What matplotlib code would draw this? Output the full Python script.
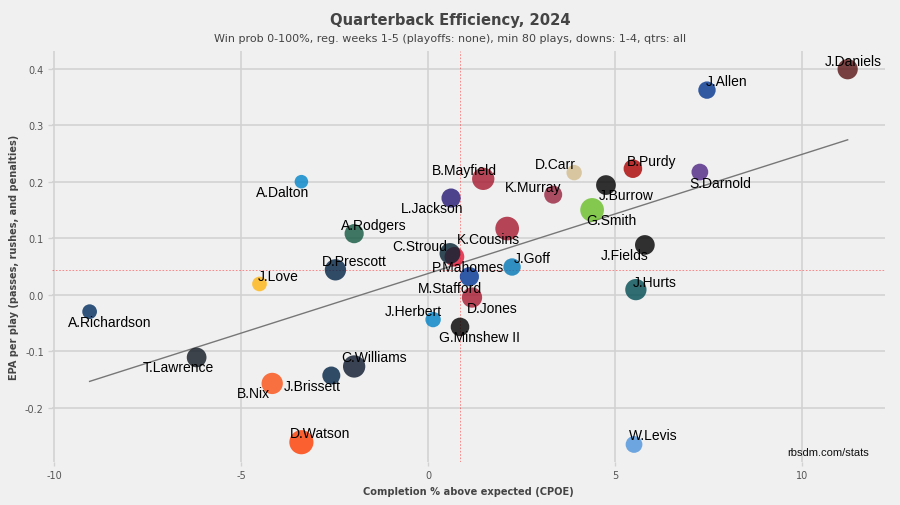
import numpy as np
import matplotlib
matplotlib.use("Agg")
import matplotlib.pyplot as plt

plt.rcParams["axes.unicode_minus"] = False

# ---- data ----
players = ["J.Daniels", "J.Allen", "B.Purdy", "S.Darnold", "D.Carr", "J.Burrow", "G.Smith",
           "K.Murray", "B.Mayfield", "L.Jackson", "K.Cousins", "P.Mahomes", "C.Stroud", "J.Goff",
           "M.Stafford", "D.Jones", "J.Herbert", "G.Minshew II", "J.Fields", "J.Hurts", "W.Levis",
           "A.Dalton", "A.Rodgers", "D.Prescott", "J.Love", "A.Richardson", "T.Lawrence", "B.Nix",
           "J.Brissett", "C.Williams", "D.Watson"]
cpoe = [11.21, 7.45, 5.47, 7.26, 3.90, 4.75, 4.38,
        3.34, 1.47, 0.61, 2.11, 0.70, 0.58, 2.24,
        1.10, 1.17, 0.13, 0.85, 5.79, 5.55, 5.50,
        -3.39, -1.98, -2.48, -4.51, -9.05, -6.19, -4.17,
        -2.59, -1.98, -3.39]
epa = [0.399, 0.362, 0.223, 0.217, 0.216, 0.194, 0.150,
       0.177, 0.205, 0.171, 0.117, 0.067, 0.073, 0.049,
       0.032, -0.005, -0.044, -0.057, 0.088, 0.009, -0.265,
       0.200, 0.108, 0.044, 0.019, -0.030, -0.111, -0.157,
       -0.143, -0.127, -0.261]
plays = [190, 140, 160, 130, 110, 180, 260,
         150, 230, 170, 260, 180, 200, 140,
         170, 190, 110, 160, 180, 210, 130,
         85, 170, 210, 100, 100, 180, 210,
         150, 230, 270]
colors = ["#5A1414", "#00338D", "#AA0000", "#4F2683", "#D3BC8D", "#000000", "#69BE28",
          "#97233F", "#A71930", "#241773", "#A71930", "#E31837", "#03202F", "#0076B6",
          "#003594", "#A71930", "#0080C6", "#000000", "#000000", "#004C54", "#4B92DB",
          "#0085CA", "#125740", "#002244", "#FFB612", "#002C5F", "#101820", "#FB4F14",
          "#002244", "#0B162A", "#FF3C00"]
mean_cpoe = 0.86
mean_epa = 0.043

title = "Quarterback Efficiency, 2024"
subtitle = "Win prob 0-100%, reg. weeks 1-5 (playoffs: none), min 80 plays, downs: 1-4, qtrs: all"
xlabel = "Completion % above expected (CPOE)"
ylabel = "EPA per play (passes, rushes, and penalties)"

# ---- layout: label offsets in pixels (dx right, dy up) ----
label_off = {
    "J.Daniels": (6, 8), "J.Allen": (20, 9), "B.Purdy": (19, 8), "S.Darnold": (20, -11),
    "D.Carr": (-19, 9), "J.Burrow": (20, -10), "G.Smith": (19, -10), "K.Murray": (-20, 8),
    "B.Mayfield": (-19, 9), "L.Jackson": (-19, -10), "K.Cousins": (-19, -10),
    "P.Mahomes": (14, -10), "C.Stroud": (-30, 7), "J.Goff": (20, 9), "M.Stafford": (-19, -11),
    "D.Jones": (20, -10), "J.Herbert": (-20, 9), "G.Minshew II": (19, -10), "J.Fields": (-20, -10),
    "J.Hurts": (19, 8), "W.Levis": (19, 9), "A.Dalton": (-19, -10), "A.Rodgers": (20, 9),
    "D.Prescott": (19, 9), "J.Love": (19, 8), "A.Richardson": (20, -10), "T.Lawrence": (-18, -10),
    "B.Nix": (-19, -10), "J.Brissett": (-19, -10), "C.Williams": (20, 9), "D.Watson": (19, 9),
}

BG = "#f0f0f0"
fig = plt.figure(figsize=(9, 5.06), dpi=100, facecolor=BG)
ax = fig.add_axes([0.058, 0.085, 0.925, 0.812], facecolor=BG)

for s in ax.spines.values():
    s.set_visible(False)
ax.grid(True, color="#d2d2d2", linewidth=1.2, zorder=0)
ax.set_axisbelow(True)
ax.tick_params(length=3, width=1.0, color="#d2d2d2", labelsize=7, labelcolor="#555555", pad=3)

x = np.array(cpoe)
y = np.array(epa)
sizes = np.array(plays) * 1.12

ax.axvline(mean_cpoe, color="red", linestyle=(0, (2, 2)), linewidth=0.6, alpha=0.5, zorder=1)
ax.axhline(mean_epa, color="red", linestyle=(0, (2, 2)), linewidth=0.6, alpha=0.5, zorder=1)

coef = np.polyfit(x, y, 1)
xs = np.array([x.min(), x.max()])
ax.plot(xs, np.polyval(coef, xs), color="#777777", linewidth=1.0, zorder=2)

ax.scatter(x, y, s=sizes, c=colors, alpha=0.8, edgecolors="none", zorder=3)

for name, xi, yi in zip(players, x, y):
    dx, dy = label_off[name]
    ax.annotate(name, (xi, yi), xytext=(dx, dy), textcoords="offset pixels",
                ha="center", va="center", fontsize=10, family="Liberation Sans",
                color="#000000", zorder=4)

ax.set_xticks([-10, -5, 0, 5, 10])
ax.set_yticks([-0.2, -0.1, 0.0, 0.1, 0.2, 0.3, 0.4])
ax.set_xlim(-10.05, 12.2)
ax.set_ylim(-0.296, 0.431)

ax.set_xlabel(xlabel, fontsize=7.1, fontweight="bold", color="#444444", labelpad=4)
ax.set_ylabel(ylabel, fontsize=7, fontweight="bold", color="#444444", labelpad=4)

ax.text(0.883, 0.012, "rbsdm.com/stats", transform=ax.transAxes, fontsize=8,
        family="Liberation Sans", color="#111111", ha="left", va="bottom")

fig.text(0.5, 0.96, title, ha="center", va="center", fontsize=10.6, fontweight="bold", color="#444444")
fig.text(0.5, 0.923, subtitle, ha="center", va="center", fontsize=8, color="#444444")

fig.savefig("out.png", dpi=100, facecolor=BG)
